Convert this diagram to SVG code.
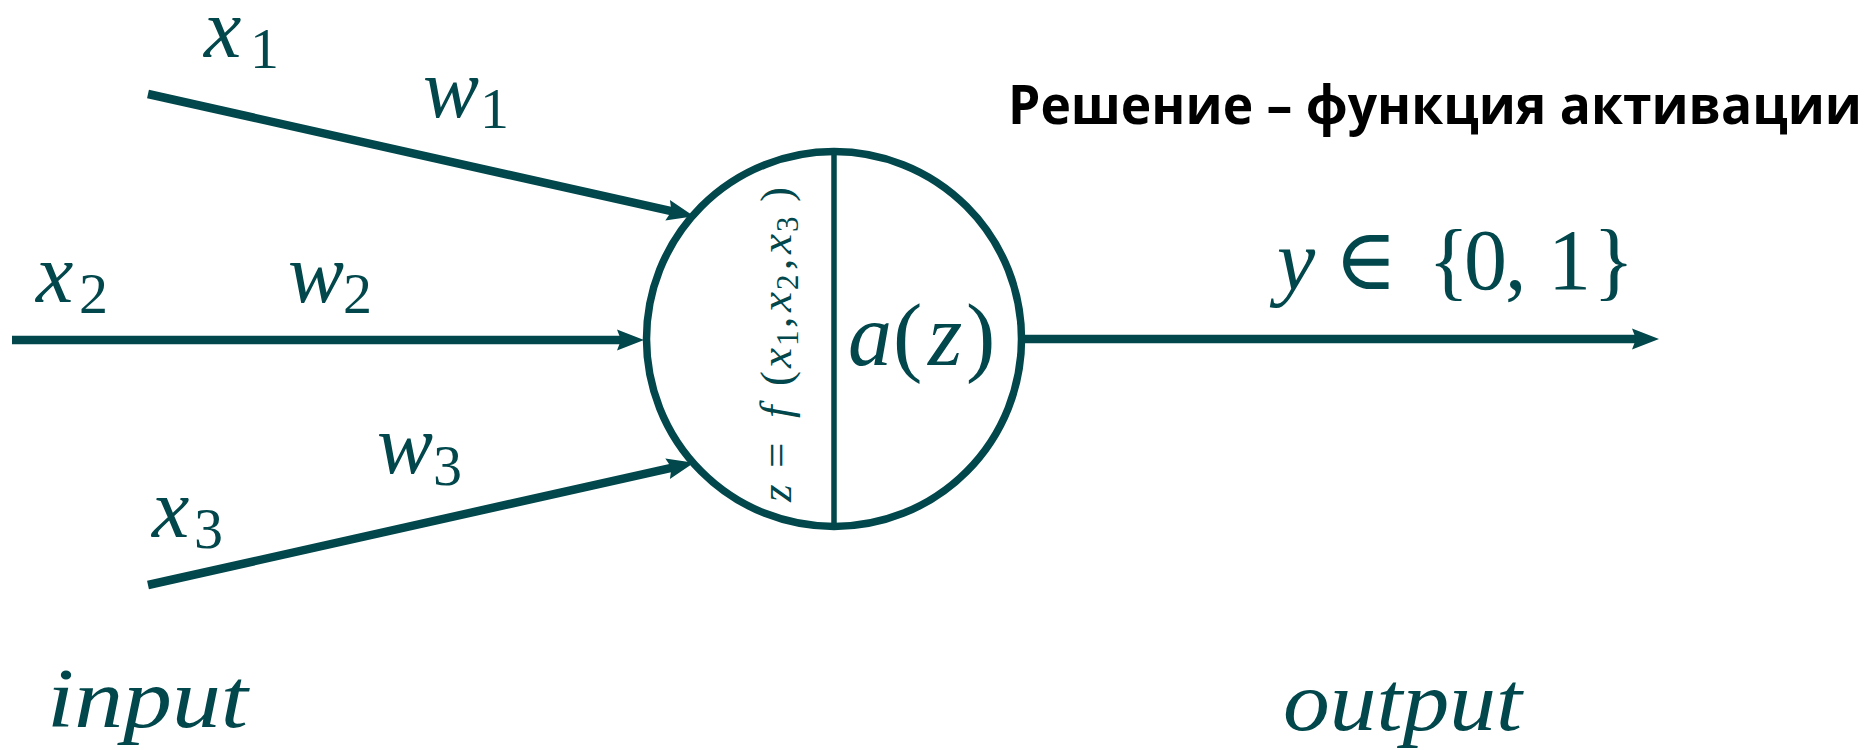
<svg xmlns="http://www.w3.org/2000/svg" width="1874" height="750" viewBox="0 0 1874 750">
<style>
.m{font-family:"Liberation Serif","DejaVu Serif",serif;fill:#01474b}
.i{font-style:italic}
.u{font-style:normal}
.ln{stroke:#01474b;stroke-width:8.5;fill:none}
.title{font-family:"Open Sans","Liberation Sans",sans-serif;font-weight:700;font-size:54px;fill:#000}
</style>
<defs>
<marker id="arr" markerUnits="userSpaceOnUse" markerWidth="28" markerHeight="22" refX="13" refY="11" orient="auto" overflow="visible">
<path d="M27,11 L0,0.5 L4,11 L0,21.5 Z" fill="#01474b"/>
</marker>
</defs>
<rect width="1874" height="750" fill="#fff"/>
<g id="title"><text class="title" x="1008" y="124" textLength="854" lengthAdjust="spacingAndGlyphs">Решение – функция активации</text></g>
<g id="connectors">
<line class="ln" x1="148" y1="94" x2="680.3" y2="213.2" marker-end="url(#arr)"/>
<line class="ln" x1="12" y1="340" x2="630" y2="340" marker-end="url(#arr)"/>
<line class="ln" x1="148" y1="585" x2="680.3" y2="465.8" marker-end="url(#arr)"/>
<line class="ln" x1="1021" y1="339" x2="1645" y2="339" marker-end="url(#arr)"/>
</g>
<g id="neuron">
<circle cx="834" cy="339" r="187.5" fill="none" stroke="#01474b" stroke-width="7.5"/>
<line x1="834" y1="151.5" x2="834" y2="526.5" stroke="#01474b" stroke-width="5.5"/>
<text class="m" font-size="45" transform="translate(791,502) rotate(-90)"><tspan class="i" x="0" y="0">z</tspan><tspan class="u" x="34">=</tspan><tspan class="i" x="84">f</tspan><tspan class="u" x="116">(</tspan><tspan class="i" x="134">x</tspan><tspan class="u" x="156" y="7" font-size="31">1</tspan><tspan class="u" x="174" y="0">,</tspan><tspan class="i" x="190">x</tspan><tspan class="u" x="212" y="7" font-size="31">2</tspan><tspan class="u" x="232" y="0">,</tspan><tspan class="i" x="248">x</tspan><tspan class="u" x="270" y="7" font-size="31">3</tspan><tspan class="u" x="300" y="0">)</tspan></text>
<text class="m" font-size="88" y="365"><tspan class="i" x="848">a</tspan><tspan class="u" x="893">(</tspan><tspan class="i" x="928">z</tspan><tspan class="u" x="966">)</tspan></text>
</g>
<g id="labels">
<text class="m" font-size="84"><tspan class="i" x="204" y="57">x</tspan><tspan class="u" x="250" y="68" font-size="58">1</tspan></text>
<text class="m" font-size="84"><tspan class="i" x="423" y="117">w</tspan><tspan class="u" x="480" y="128" font-size="58">1</tspan></text>
<text class="m" font-size="84"><tspan class="i" x="36" y="302">x</tspan><tspan class="u" x="79" y="313" font-size="58">2</tspan></text>
<text class="m" font-size="84"><tspan class="i" x="288" y="302">w</tspan><tspan class="u" x="343" y="313" font-size="58">2</tspan></text>
<text class="m" font-size="84"><tspan class="i" x="377" y="473">w</tspan><tspan class="u" x="433" y="485" font-size="58">3</tspan></text>
<text class="m" font-size="84"><tspan class="i" x="152" y="537">x</tspan><tspan class="u" x="194" y="548" font-size="58">3</tspan></text>
<text class="m" font-size="86" y="289"><tspan class="i" x="1277">y</tspan><tspan class="u" x="1334">∈</tspan><tspan class="u" x="1428">{</tspan><tspan class="u" x="1464">0</tspan><tspan class="u" x="1505">,</tspan><tspan class="u" x="1548">1</tspan><tspan class="u" x="1593">}</tspan></text>
<text class="m i" font-size="84" x="47" y="727" textLength="201" lengthAdjust="spacingAndGlyphs">input</text>
<text class="m i" font-size="84" x="1283" y="730" textLength="239" lengthAdjust="spacingAndGlyphs">output</text>
</g>
</svg>
